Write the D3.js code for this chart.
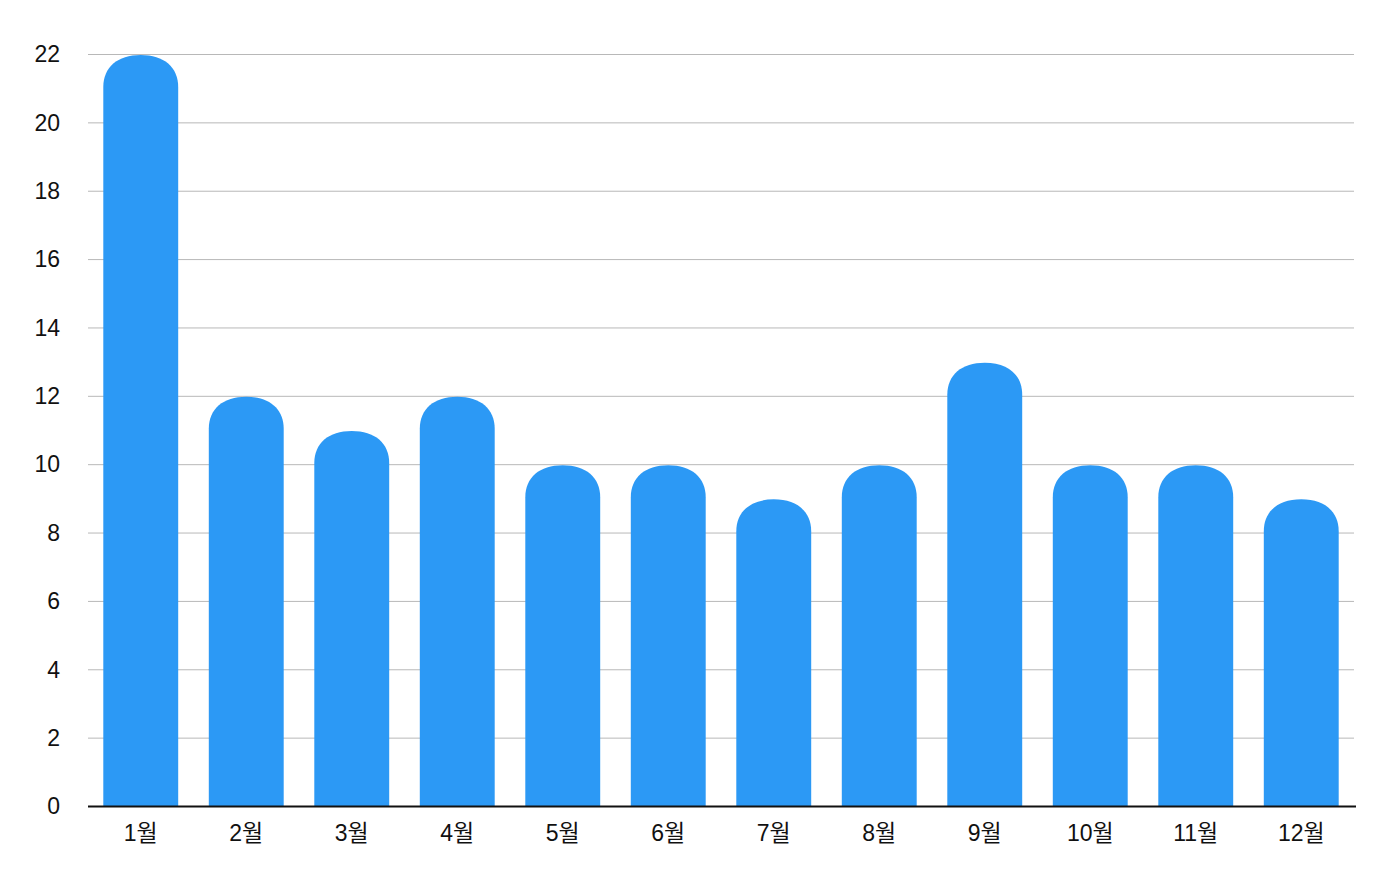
<!DOCTYPE html>
<html><head><meta charset="utf-8">
<script src="https://cdn.jsdelivr.net/npm/d3@7"></script>
<style>body{margin:0;background:#fff}svg{display:block}</style>
</head><body>
<svg id="c" width="1400" height="888"></svg>
<script>
const categories = ["1월","2월","3월","4월","5월","6월","7월","8월","9월","10월","11월","12월"];
const values = [22,12,11,12,10,10,9,10,13,10,10,9];
const yTicks = [0,2,4,6,8,10,12,14,16,18,20,22];

(function(){
const svg = d3.select("#c");
const mLeft = 88, mRight = 1354, mTop = 54, mBottom = 806;
const x = d3.scaleBand().domain(categories).range([mLeft, mRight]).paddingInner(0.29).paddingOuter(0.145);
const y = d3.scaleLinear().domain([0, 22]).range([mBottom, mTop]);
const font = "'Liberation Sans','Noto Sans CJK KR',sans-serif";

svg.append("g").selectAll("line").data(yTicks.filter(d=>d>0)).join("line")
  .attr("x1", mLeft).attr("x2", mRight)
  .attr("y1", d=>y(d)+0.5).attr("y2", d=>y(d)+0.5)
  .attr("stroke", "#b8b8b8").attr("stroke-width", 1);

svg.append("g").selectAll("text").data(yTicks).join("text")
  .attr("x", 60).attr("y", d=>y(d)).attr("dy", "0.36em")
  .attr("text-anchor", "end").attr("font-family", font).attr("font-size", 23)
  .attr("fill", "#111").text(d=>d);

function barPath(x0, w, yt, yb){
  const ry = Math.min(32, (yb-yt));
  const cx = x0 + w/2, x1 = x0 + w, rx = w/2, k = 0.62;
  return `M${x0},${yb}L${x0},${yt+ry}` +
    `C${x0},${yt+ry*(1-k)} ${cx-rx*k},${yt} ${cx},${yt}` +
    `C${cx+rx*k},${yt} ${x1},${yt+ry*(1-k)} ${x1},${yt+ry}` +
    `L${x1},${yb}Z`;
}

svg.append("g").selectAll("path").data(values).join("path")
  .attr("d", (d,i)=>barPath(x(categories[i]), x.bandwidth(), y(d)+1, y(0)))
  .attr("fill", "#2c99f5");

svg.append("line").attr("x1", mLeft).attr("x2", mRight+2)
  .attr("y1", mBottom+0.5).attr("y2", mBottom+0.5).attr("stroke", "#111").attr("stroke-width", 2);

svg.append("g").selectAll("text").data(categories).join("text")
  .attr("x", d=>x(d)+x.bandwidth()/2).attr("y", 841)
  .attr("text-anchor", "middle").attr("font-family", font).attr("font-size", 23)
  .attr("fill", "#111").text(d=>d);
})();
</script>
</body></html>
